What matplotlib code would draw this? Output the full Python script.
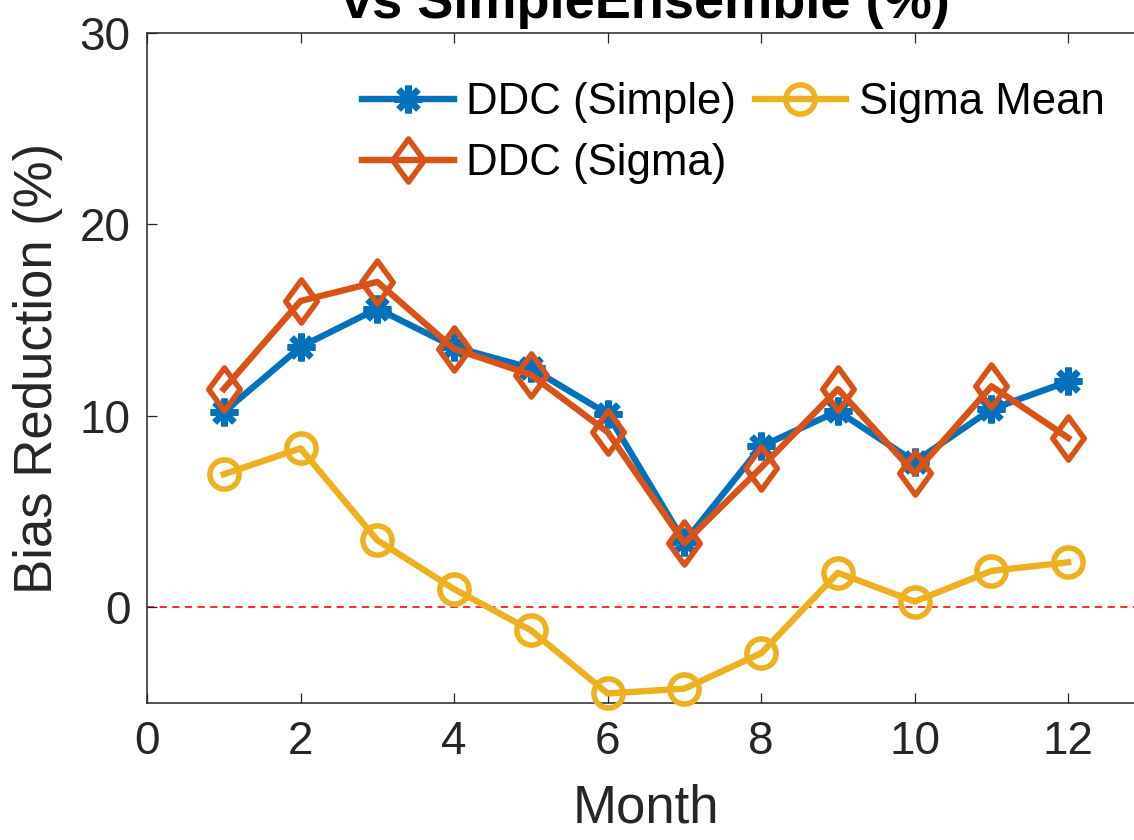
import numpy as np
import matplotlib
matplotlib.use('Agg')
import matplotlib.pyplot as plt
from matplotlib.path import Path

plt.rcParams['font.family'] = ['Liberation Sans', 'DejaVu Sans']

# monthly bias reduction vs SimpleEnsemble (%)
months = [1, 2, 3, 4, 5, 6, 7, 8, 9, 10, 11, 12]
ddc_simple = [10.2, 13.6, 15.6, 13.6, 12.5, 10.1, 3.4, 8.4, 10.25, 7.6, 10.35, 11.8]
ddc_sigma = [11.4, 16.0, 17.0, 13.5, 12.15, 9.15, 3.35, 7.3, 11.4, 7.0, 11.55, 8.85]
sigma_mean = [6.95, 8.3, 3.5, 0.95, -1.2, -4.5, -4.25, -2.4, 1.8, 0.3, 1.9, 2.35]

xticks = [0, 2, 4, 6, 8, 10, 12]
yticks = [0, 10, 20, 30]

blue = '#0072BD'
orange = '#D95319'
yellow = '#EDB120'
axcol = '#262626'

# MATLAB-style diamond: taller than wide
diamond = Path([(0, 1), (0.73, 0), (0, -1), (-0.73, 0), (0, 1)],
               [Path.MOVETO, Path.LINETO, Path.LINETO, Path.LINETO, Path.CLOSEPOLY])

fig = plt.figure(figsize=(11.34, 8.40), dpi=100)
ax = fig.add_axes([147 / 1134, 137 / 840, 998 / 1134, 670 / 840])

ax.axhline(0, color='#ff1a1a', lw=1.3, ls=(0, (4, 3)), zorder=1)

l1, = ax.plot(months, ddc_simple, color=blue, lw=4.6, marker=(8, 2, 0), ms=20, mew=4.6,
              label='DDC (Simple)', clip_on=False, zorder=3)
l2, = ax.plot(months, ddc_sigma, color=orange, lw=4.6, marker=diamond, ms=31, mew=4.0,
              mfc='none', label='DDC (Sigma)', clip_on=False, zorder=4)
l3, = ax.plot(months, sigma_mean, color=yellow, lw=4.6, marker='o', ms=21, mew=4.0,
              mfc='none', label='Sigma Mean', clip_on=False, zorder=3)

ax.set_xlim(0, 13)
ax.set_ylim(-5, 30)
ax.set_xticks(xticks)
ax.set_yticks(yticks)
for sp in ax.spines.values():
    sp.set_color(axcol)
    sp.set_linewidth(1.1)
ax.tick_params(direction='in', top=True, right=True, length=7, width=0.9,
               colors=axcol, labelsize=33, pad=12)

ax.set_xlabel('Month', fontsize=38, color=axcol, labelpad=14)
ax.set_ylabel('Bias Reduction (%)', fontsize=38, color=axcol, labelpad=12)
ax.set_title('vs SimpleEnsemble (%)', fontsize=39, fontweight='bold',
             y=1 + 15 / 670, pad=0, va='baseline', color='black')

leg = ax.legend(handles=[l1, l2, l3], ncol=2, frameon=False, fontsize=31.5,
                loc='upper left', bbox_to_anchor=(362 / 1134, 1 - 82 / 840),
                bbox_transform=fig.transFigure, borderpad=0, borderaxespad=0,
                handlelength=2.1, handletextpad=0.28, columnspacing=0.42,
                labelspacing=0.46, numpoints=1)

fig.savefig('out.png', dpi=100)
